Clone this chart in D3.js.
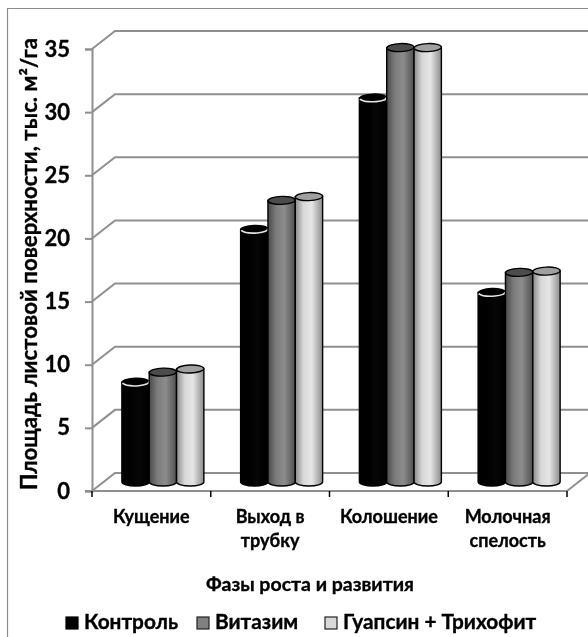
<!DOCTYPE html>
<html>
<head>
<meta charset="utf-8">
<script src="https://cdn.jsdelivr.net/npm/d3@7"></script>
<style>
  html, body { margin: 0; padding: 0; background: #fff; overflow: hidden; }
  svg { display: block; filter: blur(0.35px); }
  text { font-family: Lato, "Open Sans", sans-serif; font-weight: 700; fill: #000; stroke: #000; stroke-width: 0.35px; }
</style>
</head>
<body>
<svg id="chart" width="588" height="637"></svg>
<script>
const categories = [['Кущение'], ['Выход в', 'трубку'], ['Колошение'], ['Молочная', 'спелость']];
const seriesNames = ['Контроль', 'Витазим', 'Гуапсин + Трихофит'];
const control = [7.9, 20.0, 30.4, 15.0];
const vitazim = [8.7, 22.3, 34.4, 16.6];
const guapsin = [8.95, 22.6, 34.4, 16.7];
const yTicks = [0, 5, 10, 15, 20, 25, 30, 35];
const yTitle = 'Площадь листовой поверхности, тыс. м²/га';
const xTitle = 'Фазы роста и развития';

const allSeries = [control, vitazim, guapsin];

const svg = d3.select('svg#chart');
const margin = { left: 92, right: 21, top: 49, bottom: 146 };
const width = 588, height = 637;

// depth of the fake 3d box
const depth = { x: 23, y: -18 };
const mid = { x: 11.5, y: -9 };

const xScale = d3.scaleBand()
  .domain(d3.range(categories.length))
  .range([margin.left, width - margin.right]);
const yScale = d3.scaleLinear()
  .domain([0, 35])
  .range([height - margin.bottom, margin.top]);
const seriesScale = d3.scaleBand()
  .domain(d3.range(seriesNames.length))
  .range([0, 82]);

// gradients for the cylinders
const defs = svg.append('defs');
const ramps = [
  ['#000', '#000', '#060606', '#000'],
  ['#4a4a4a', '#7c7c7c', '#8c8c8c', '#505050'],
  ['#8a8a8a', '#d8d8d8', '#e6e6e6', '#8c8c8c']
];
ramps.forEach((r, i) => {
  const grad = defs.append('linearGradient').attr('id', `cyl${i}`);
  [0, 0.3, 0.6, 1].forEach((o, j) => {
    grad.append('stop').attr('offset', o).attr('stop-color', r[j]);
  });
});
const topFill = ['#000', '#4c4c4c', '#a0a0a0'];

// outer frame
svg.append('path')
  .attr('d', `M7.5,637V8.5H588`)
  .attr('fill', 'none')
  .attr('stroke', '#8c8c8c')
  .attr('stroke-width', 1.2);

// floor, walls, gridlines
const grid = svg.append('g');
const gridColor = '#8f8f8f';
yTicks.forEach(t => {
  const y = yScale(t);
  grid.append('path')
    .attr('d', `M${margin.left},${y}l${depth.x},${depth.y}H588`)
    .attr('fill', 'none')
    .attr('stroke', gridColor)
    .attr('stroke-width', 2);
});
grid.append('path')
  .attr('d', `M${width - margin.right},${yScale(0)}l${depth.x},${depth.y}`)
  .attr('fill', 'none')
  .attr('stroke', gridColor)
  .attr('stroke-width', 2);

// axes
const yAxis = d3.axisLeft(yScale).tickValues(yTicks).tickSize(7).tickPadding(15);
const yAxisG = svg.append('g')
  .attr('transform', `translate(${margin.left},0)`)
  .call(yAxis);
yAxisG.selectAll('.domain').attr('stroke', gridColor).attr('stroke-width', 2);
yAxisG.selectAll('.tick line').attr('stroke', gridColor).attr('stroke-width', 2);
yAxisG.selectAll('text').style('font-size', '22px').attr('fill', '#000');

svg.append('line')
  .attr('x1', margin.left - 7).attr('x2', width - margin.right)
  .attr('y1', yScale(0)).attr('y2', yScale(0))
  .attr('stroke', gridColor).attr('stroke-width', 2);

// x ticks on category edges
const edges = categories.map((d, i) => xScale(i)).concat(width - margin.right);
svg.selectAll('.x-tick').data(edges).enter().append('line')
  .attr('class', 'x-tick')
  .attr('x1', d => d).attr('x2', d => d)
  .attr('y1', yScale(0)).attr('y2', yScale(0) + 6)
  .attr('stroke', '#000').attr('stroke-width', 1.5);

// cylinders
const bars = svg.append('g');
categories.forEach((c, i) => {
  const left = xScale(i) + xScale.bandwidth() / 2 - seriesScale.range()[1] / 2 + mid.x;
  seriesNames.forEach((s, k) => {
    const v = allSeries[k][i];
    const w = seriesScale.bandwidth();
    const x = left + seriesScale(k);
    const yTop = yScale(v) + mid.y;
    const yBot = yScale(0) + mid.y;
    const rx = w / 2, ry = 4;
    bars.append('path')
      .attr('d', `M${x},${yTop}V${yBot}A${rx},${ry} 0 0 0 ${x + w},${yBot}V${yTop}Z`)
      .attr('fill', `url(#cyl${k})`)
      .attr('stroke', '#000')
      .attr('stroke-width', 1.4);
    bars.append('ellipse')
      .attr('cx', x + rx).attr('cy', yTop)
      .attr('rx', rx).attr('ry', ry)
      .attr('transform', `rotate(-2 ${x + rx} ${yTop})`)
      .attr('fill', topFill[k])
      .attr('stroke', '#000')
      .attr('stroke-width', 1.4);
    // the black bar has a pale rim on the near edge of its top
    if (k === 0) {
      bars.append('path')
        .attr('d', `M${x + 0.5},${yTop + 1}A${rx},${ry} 0 0 0 ${x + w - 0.5},${yTop - 1}`)
        .attr('fill', 'none')
        .attr('stroke', '#e4e4e4')
        .attr('stroke-width', 1.6);
    }
  });
});

// category labels
categories.forEach((c, i) => {
  const cx = xScale(i) + xScale.bandwidth() / 2;
  c.forEach((line, j) => {
    svg.append('text')
      .attr('x', cx).attr('y', 523 + j * 24)
      .attr('text-anchor', 'middle')
      .style('font-size', '18px')
      .text(line);
  });
});

// titles
svg.append('text')
  .attr('transform', 'translate(37,264) rotate(-90)')
  .attr('text-anchor', 'middle')
  .style('font-size', '22.2px')
  .text(yTitle);
svg.append('text')
  .attr('x', 310).attr('y', 591)
  .attr('text-anchor', 'middle')
  .style('font-size', '19.5px')
  .text(xTitle);

// legend
const legendX = [66, 197, 325];
const legendFill = ['#000', '#808080', '#d9d9d9'];
seriesNames.forEach((s, k) => {
  svg.append('rect')
    .attr('x', legendX[k]).attr('y', 617)
    .attr('width', 12).attr('height', 12)
    .attr('fill', legendFill[k])
    .attr('stroke', k === 0 ? '#000' : '#222')
    .attr('stroke-width', 1.2);
  svg.append('text')
    .attr('x', legendX[k] + 18).attr('y', 629)
    .style('font-size', '20.8px')
    .text(s);
});
</script>
</body>
</html>
